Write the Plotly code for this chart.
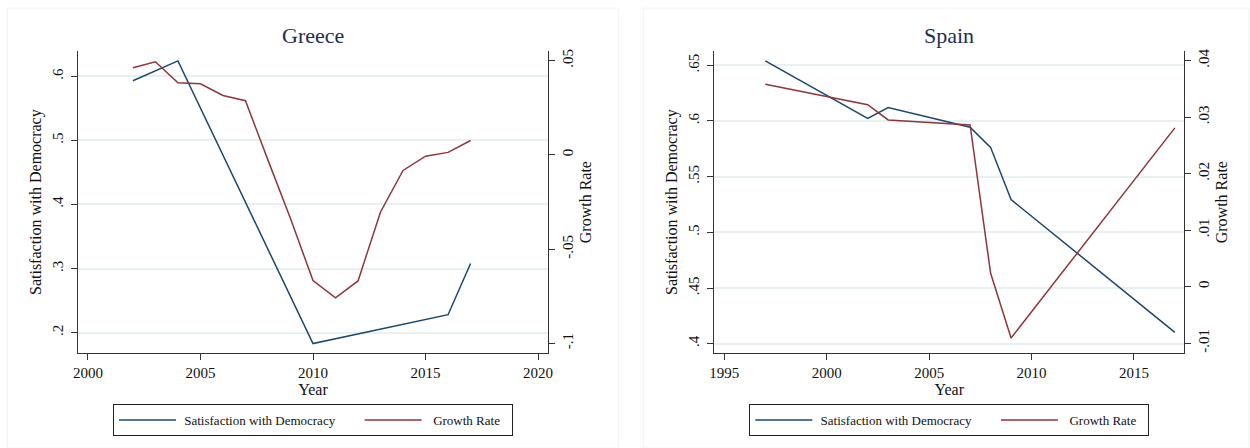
import plotly.graph_objects as go

# ---------------- data ----------------
greece_sat_years = [2002, 2004, 2010, 2016, 2017]
greece_sat = [0.593, 0.624, 0.183, 0.228, 0.308]
greece_gr_years = [2002, 2003, 2004, 2005, 2006, 2007, 2008, 2009, 2010, 2011, 2012, 2013, 2014, 2015, 2016, 2017]
greece_gr = [0.0462, 0.0494, 0.0382, 0.0377, 0.0315, 0.0287, -0.0028, -0.0338, -0.0667, -0.0759, -0.0669,
             -0.0303, -0.0083, -0.0007, 0.0013, 0.0076]

spain_sat_years = [1997, 2002, 2003, 2007, 2008, 2009, 2017]
spain_sat = [0.6539, 0.6023, 0.612, 0.5943, 0.5763, 0.5294, 0.4102]
spain_gr_years = [1997, 2002, 2003, 2007, 2008, 2009, 2017]
spain_gr = [0.0358, 0.0322, 0.0295, 0.0286, 0.0024, -0.0091, 0.0281]

greece_xticks = [2000, 2005, 2010, 2015, 2020]
greece_yticks = [0.2, 0.3, 0.4, 0.5, 0.6]
greece_ylabels = [".2", ".3", ".4", ".5", ".6"]
greece_y2ticks = [-0.1, -0.05, 0, 0.05]
greece_y2labels = ["-.1", "-.05", "0", ".05"]

spain_xticks = [1995, 2000, 2005, 2010, 2015]
spain_yticks = [0.4, 0.45, 0.5, 0.55, 0.6, 0.65]
spain_ylabels = [".4", ".45", ".5", ".55", ".6", ".65"]
spain_y2ticks = [-0.01, 0, 0.01, 0.02, 0.03, 0.04]
spain_y2labels = ["-.01", "0", ".01", ".02", ".03", ".04"]

series_names = ["Satisfaction with Democracy", "Growth Rate"]

# ---------------- style ----------------
BLUE = "#1a476f"
RED = "#90353b"
AXC = "#333333"
GRID = "#e8f0f1"
FONT = "Liberation Serif"
W, H = 1250, 448
NB = "\u00a0"
# legend labels padded with non-breaking spaces to reproduce the legend spacing
leg_names = [NB + series_names[0] + NB * 6, NB * 2 + series_names[1] + NB * 2]

fig = go.Figure()

fig.add_trace(go.Scatter(x=greece_sat_years, y=greece_sat, mode="lines", name=leg_names[0],
                         line=dict(color=BLUE, width=1.5), xaxis="x", yaxis="y", legend="legend"))
fig.add_trace(go.Scatter(x=greece_gr_years, y=greece_gr, mode="lines", name=leg_names[1],
                         line=dict(color=RED, width=1.5), xaxis="x", yaxis="y2", legend="legend"))
fig.add_trace(go.Scatter(x=spain_sat_years, y=spain_sat, mode="lines", name=leg_names[0],
                         line=dict(color=BLUE, width=1.5), xaxis="x2", yaxis="y3", legend="legend2"))
fig.add_trace(go.Scatter(x=spain_gr_years, y=spain_gr, mode="lines", name=leg_names[1],
                         line=dict(color=RED, width=1.5), xaxis="x2", yaxis="y4", legend="legend2"))

gx = [78 / W, 548 / W]
sx = [714.3 / W, 1184.3 / W]
yd = [1 - 353.3 / H, 1 - 51 / H]

tickfont = dict(family=FONT, size=15, color="#111111")
titlefont = dict(family=FONT, size=16, color="#111111")

def xaxis(domain, rng, ticks, anchor):
    return dict(domain=domain, range=rng, tickvals=ticks, ticktext=[str(t) for t in ticks],
                showline=True, linecolor=AXC, linewidth=1, ticks="outside", ticklen=6, tickcolor=AXC,
                showgrid=False, zeroline=False, tickfont=tickfont, anchor=anchor, automargin=False,
                title=dict(text="Year", font=titlefont, standoff=0))

def yleft(domain, rng, ticks, labels, anchor):
    return dict(domain=domain, range=rng, tickvals=ticks, ticktext=labels, tickangle=-90,
                showline=True, linecolor=AXC, linewidth=1, ticks="outside", ticklen=6, tickcolor=AXC,
                showgrid=True, gridcolor=GRID, gridwidth=1.5, zeroline=False, tickfont=tickfont,
                anchor=anchor, automargin=False, ticklabelstandoff=2,
                title=dict(text="Satisfaction with Democracy", font=titlefont, standoff=4))

def yright(rng, ticks, labels, anchor, over):
    return dict(range=rng, tickvals=ticks, ticktext=labels, tickangle=-90, side="right", overlaying=over,
                showline=True, linecolor=AXC, linewidth=1, ticks="outside", ticklen=6, tickcolor=AXC,
                showgrid=False, zeroline=False, tickfont=tickfont, anchor=anchor, automargin=False,
                title=dict(text="Growth Rate", font=titlefont, standoff=4))

legend_common = dict(orientation="h", xanchor="center", yanchor="top", y=1 - 404 / H,
                     bordercolor="#222222", borderwidth=1, bgcolor="white", itemwidth=57,
                     font=dict(family=FONT, size=13, color="#111111"))

fig.update_layout(
    width=W, height=H, margin=dict(l=0, r=0, t=0, b=0, autoexpand=False),
    paper_bgcolor="white", plot_bgcolor="white",
    font=dict(family=FONT),
    xaxis=xaxis(gx, [1999.56, 2020.44], greece_xticks, "y"),
    yaxis=yleft(yd, [0.1678, 0.6395], greece_yticks, greece_ylabels, "x"),
    yaxis2=yright([-0.1053, 0.0551], greece_y2ticks, greece_y2labels, "x", "y"),
    xaxis2=xaxis(sx, [1994.51, 2017.46], spain_xticks, "y3"),
    yaxis3=yleft(yd, [0.3914, 0.6628], spain_yticks, spain_ylabels, "x2"),
    yaxis4=yright([-0.0118, 0.0417], spain_y2ticks, spain_y2labels, "x2", "y3"),
    legend=dict(legend_common, x=(gx[0] + gx[1]) / 2),
    legend2=dict(legend_common, x=(sx[0] + sx[1]) / 2),
    showlegend=True,
)

# panel titles
for name, dom in [("Greece", gx), ("Spain", sx)]:
    fig.add_annotation(text=name, x=(dom[0] + dom[1]) / 2, y=1 - 35 / H, xref="paper", yref="paper",
                       showarrow=False, xanchor="center", yanchor="middle",
                       font=dict(family=FONT, size=22, color="#1e2d54"))

# faint panel frames
fig.add_shape(type="rect", xref="paper", yref="paper", x0=7.3 / W, x1=618.7 / W, y0=0, y1=1 - 8 / H,
              line=dict(color="#f2f2f2", width=1), layer="below")
fig.add_shape(type="rect", xref="paper", yref="paper", x0=643.3 / W, x1=1249 / W, y0=0, y1=1 - 8 / H,
              line=dict(color="#f2f2f2", width=1), layer="below")

fig.write_html("out.html", config={"displayModeBar": False},
               post_script="document.body.style.margin='0';")
